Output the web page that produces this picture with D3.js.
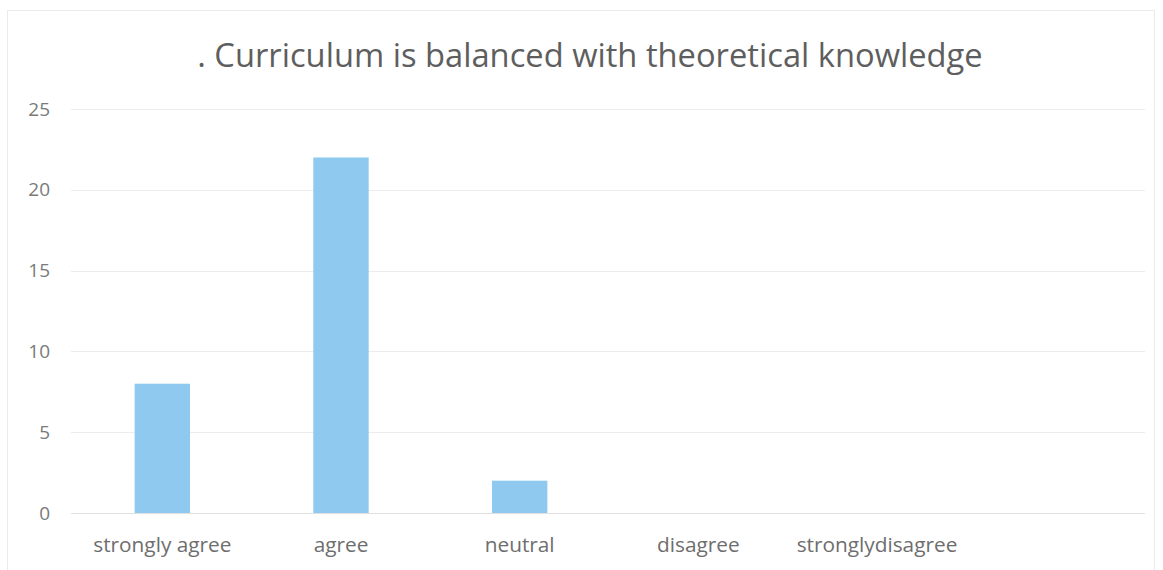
<!DOCTYPE html>
<html>
<head>
<meta charset="utf-8">
<script src="https://cdn.jsdelivr.net/npm/d3@7"></script>
<style>
  html, body { margin: 0; padding: 0; background: #ffffff; }
  svg { display: block; }
</style>
</head>
<body>
<svg id="chart" width="1163" height="570"></svg>
<script>
// Survey responses
const categories = ["strongly agree", "agree", "neutral", "disagree", "stronglydisagree", ""];
const counts = [8, 22, 2, 0, 0, 0];
const yTicks = [0, 5, 10, 15, 20, 25];
const titleText = ". Curriculum is balanced with theoretical knowledge";

const width = 1163, height = 570;
const margin = { top: 109, right: 18, bottom: 57, left: 71 };
const svg = d3.select("#chart");

// Chart area frame
svg.append("rect")
  .attr("x", 7.5).attr("y", 10.5)
  .attr("width", width - 16).attr("height", height - 10)
  .attr("fill", "none").attr("stroke", "#ebebeb").attr("stroke-width", 1);

const x = d3.scaleBand()
  .domain(categories)
  .range([margin.left + 2, width - margin.right])
  .paddingInner(0.69)
  .paddingOuter(0.345);

const y = d3.scaleLinear()
  .domain([0, 25])
  .range([height - margin.bottom, margin.top]);

// Horizontal gridlines
svg.append("g")
  .selectAll("line")
  .data(yTicks)
  .join("line")
  .attr("x1", margin.left).attr("x2", width - margin.right)
  .attr("y1", d => Math.round(y(d)) + 0.5).attr("y2", d => Math.round(y(d)) + 0.5)
  .attr("stroke", d => d === 0 ? "#e0e0e0" : "#ececec")
  .attr("stroke-width", 1);

// Y axis labels
const yAxis = d3.axisLeft(y).tickValues(yTicks).tickSize(0).tickPadding(0);
svg.append("g")
  .attr("transform", `translate(50,0)`)
  .call(yAxis)
  .call(g => g.select(".domain").remove())
  .call(g => g.selectAll("text")
    .attr("fill", "#7a7a7a")
    .style("font-family", "'Open Sans', sans-serif")
    .style("font-size", "19px"));

// Bars
svg.append("g")
  .selectAll("rect")
  .data(categories.map((c, i) => ({ c, v: counts[i] })))
  .join("rect")
  .attr("x", d => x(d.c))
  .attr("width", x.bandwidth())
  .attr("y", d => y(d.v))
  .attr("height", d => y(0) - y(d.v))
  .attr("fill", "#90c9ef");

// X axis labels
const xAxis = d3.axisBottom(x).tickSize(0).tickPadding(0);
svg.append("g")
  .attr("transform", `translate(0,${height - margin.bottom + 39})`)
  .call(xAxis)
  .call(g => g.select(".domain").remove())
  .call(g => g.selectAll("text")
    .attr("dy", 0)
    .attr("fill", "#6e6e6e")
    .style("font-family", "'Open Sans', sans-serif")
    .style("font-size", "20.8px"));

// Title
svg.append("text")
  .attr("x", 590).attr("y", 67)
  .attr("text-anchor", "middle")
  .attr("fill", "#5e5e5e")
  .style("font-family", "'Open Sans', sans-serif")
  .style("font-size", "32.7px")
  .text(titleText);
</script>
</body>
</html>
